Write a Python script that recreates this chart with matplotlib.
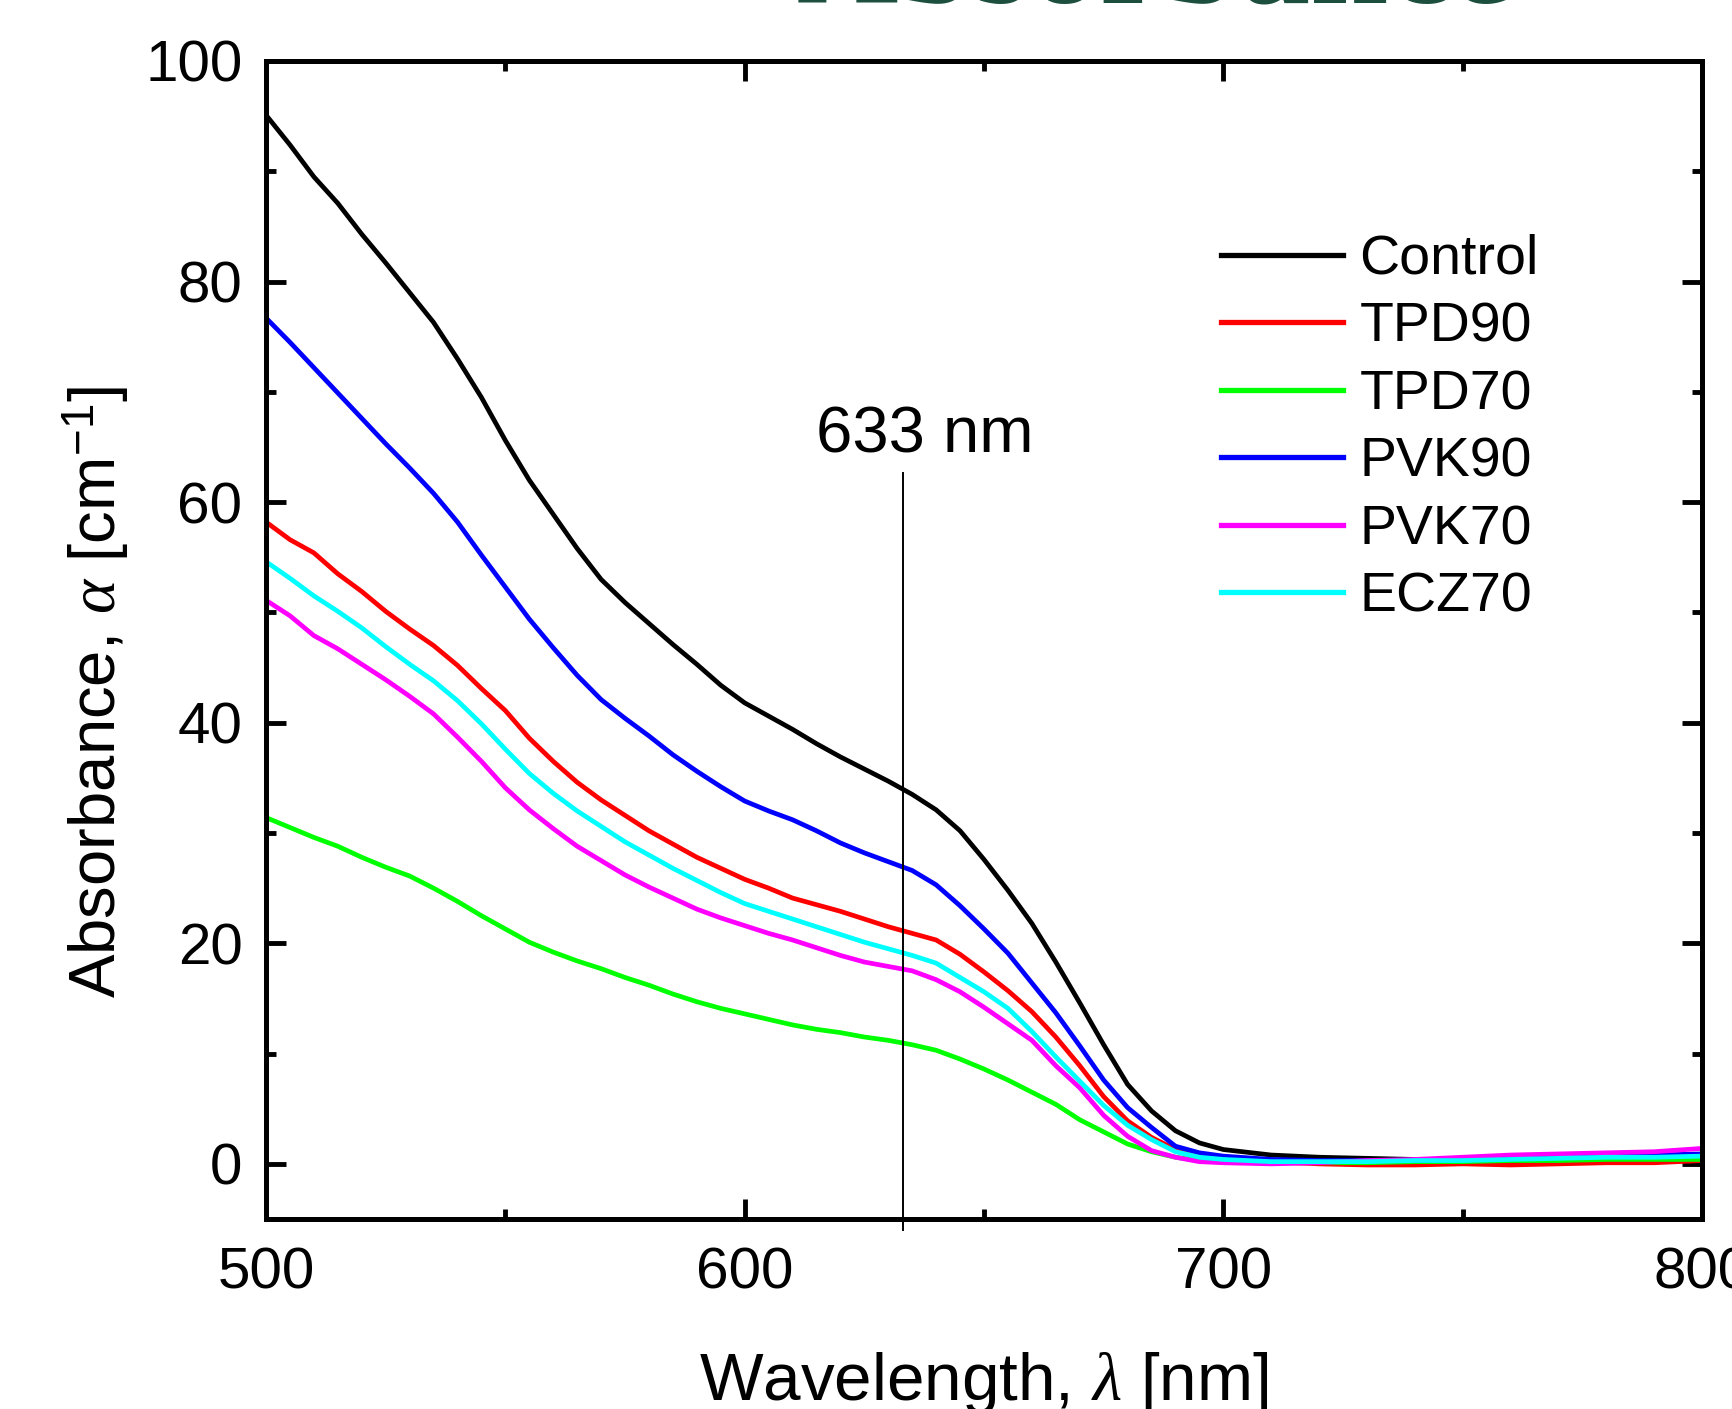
"""
Espectros de absorción de los composites fotorrefractivos
==========================================================
Coeficiente de absorción frente a longitud de onda, con la línea
del láser de He-Ne (633 nm) marcada.
"""

import matplotlib
matplotlib.use('Agg')
import matplotlib.pyplot as plt
from matplotlib.ticker import MultipleLocator

# Configuración global
plt.rcParams.update({
    'font.family': 'Liberation Sans',
    'mathtext.fontset': 'custom',
    'mathtext.rm': 'Liberation Sans',
    'mathtext.it': 'Liberation Serif:italic',
    'axes.linewidth': 3.6,
})

# Datos (nm, cm^-1)
longitud_onda = [500, 505, 510, 515, 520, 525, 530, 535, 540, 545,
                 550, 555, 560, 565, 570, 575, 580, 585, 590, 595,
                 600, 605, 610, 615, 620, 625, 630, 635, 640, 645,
                 650, 655, 660, 665, 670, 675, 680, 685, 690, 695,
                 700, 710, 720, 730, 740, 750, 760, 770, 780, 790,
                 800]

control = [95.1, 92.4, 89.5, 87.1, 84.3, 81.7, 79.0, 76.3, 73.0, 69.5,
           65.6, 62.0, 58.9, 55.8, 53.0, 50.9, 49.0, 47.1, 45.3, 43.4,
           41.8, 40.6, 39.4, 38.1, 36.9, 35.8, 34.7, 33.5, 32.1, 30.2,
           27.6, 24.8, 21.8, 18.3, 14.6, 10.8, 7.2, 4.8, 3.0, 1.9,
           1.3, 0.8, 0.6, 0.5, 0.4, 0.3, 0.3, 0.3, 0.4, 0.4,
           0.5]

tpd90 = [58.2, 56.6, 55.4, 53.5, 51.9, 50.1, 48.5, 47.0, 45.2, 43.1,
         41.1, 38.6, 36.5, 34.6, 33.0, 31.6, 30.2, 29.0, 27.8, 26.8,
         25.8, 25.0, 24.1, 23.5, 22.9, 22.2, 21.5, 20.9, 20.3, 19.0,
         17.4, 15.7, 13.8, 11.5, 8.9, 6.1, 3.9, 2.4, 1.3, 0.8,
         0.5, 0.2, 0.0, -0.1, -0.1, 0.0, -0.1, 0.0, 0.1, 0.1,
         0.3]

tpd70 = [31.4, 30.5, 29.6, 28.8, 27.8, 26.9, 26.1, 25.0, 23.8, 22.5,
         21.3, 20.1, 19.2, 18.4, 17.7, 16.9, 16.2, 15.4, 14.7, 14.1,
         13.6, 13.1, 12.6, 12.2, 11.9, 11.5, 11.2, 10.8, 10.3, 9.5,
         8.6, 7.6, 6.5, 5.4, 4.0, 2.9, 1.8, 1.1, 0.6, 0.3,
         0.2, 0.1, 0.1, 0.1, 0.2, 0.2, 0.3, 0.3, 0.4, 0.4,
         0.4]

pvk90 = [76.7, 74.5, 72.2, 69.9, 67.6, 65.3, 63.1, 60.8, 58.2, 55.2,
         52.3, 49.4, 46.8, 44.3, 42.1, 40.4, 38.8, 37.1, 35.6, 34.2,
         32.9, 32.0, 31.2, 30.2, 29.1, 28.2, 27.4, 26.6, 25.3, 23.4,
         21.3, 19.1, 16.4, 13.7, 10.7, 7.6, 5.1, 3.3, 1.6, 1.0,
         0.7, 0.4, 0.3, 0.3, 0.3, 0.4, 0.5, 0.6, 0.7, 0.8,
         0.9]

pvk70 = [51.1, 49.7, 47.9, 46.7, 45.3, 43.9, 42.4, 40.8, 38.7, 36.5,
         34.1, 32.1, 30.4, 28.8, 27.5, 26.2, 25.1, 24.1, 23.1, 22.3,
         21.6, 20.9, 20.3, 19.6, 18.9, 18.3, 17.9, 17.5, 16.7, 15.6,
         14.2, 12.7, 11.2, 8.9, 6.9, 4.4, 2.5, 1.2, 0.6, 0.2,
         0.1, 0.0, 0.1, 0.3, 0.4, 0.6, 0.8, 0.9, 1.0, 1.1,
         1.4]

ecz70 = [54.6, 53.1, 51.5, 50.1, 48.6, 46.9, 45.3, 43.8, 42.0, 39.9,
         37.6, 35.4, 33.6, 32.0, 30.6, 29.2, 28.0, 26.8, 25.7, 24.6,
         23.6, 22.9, 22.2, 21.5, 20.8, 20.1, 19.5, 18.9, 18.2, 16.9,
         15.6, 14.1, 12.0, 9.7, 7.5, 5.3, 3.5, 2.2, 1.1, 0.6,
         0.4, 0.2, 0.2, 0.2, 0.3, 0.3, 0.4, 0.5, 0.6, 0.6,
         0.7]

etiquetas = ['Control', 'TPD90', 'TPD70', 'PVK90', 'PVK70', 'ECZ70']
colores = ['#000000', '#ff0000', '#00ff00', '#0000ff', '#ff00ff', '#00ffff']

laser_nm = 633
laser_tope = 62.6


def grafico_absorcion():
    fig = plt.figure(figsize=(17.33, 14.09), dpi=100)
    ax = fig.add_axes([266 / 1733, 190 / 1409, 1436 / 1733, 1158 / 1409])

    curvas = [control, tpd90, tpd70, pvk90, pvk70, ecz70]
    for y, etiqueta, color in zip(curvas, etiquetas, colores):
        ax.plot(longitud_onda, y, color=color, lw=3.4, label=etiqueta)

    # Línea del láser He-Ne
    ax.plot([laser_nm, laser_nm], [-6, laser_tope], color='black', lw=1.4,
            clip_on=False)
    ax.text(637.6, 64.5, f'{laser_nm} nm', fontsize=47, ha='center',
            va='baseline')

    ax.set_xlim(500, 800)
    ax.set_ylim(-5, 100)
    ax.xaxis.set_major_locator(MultipleLocator(100))
    ax.xaxis.set_minor_locator(MultipleLocator(50))
    ax.yaxis.set_major_locator(MultipleLocator(20))
    ax.yaxis.set_minor_locator(MultipleLocator(10))
    ax.tick_params(which='both', direction='in', top=True, right=True,
                   width=3.5, labelsize=42)
    ax.tick_params(which='major', length=14.5)
    ax.tick_params(which='minor', length=7)
    ax.tick_params(axis='x', pad=20)
    ax.tick_params(axis='y', pad=17)

    ax.set_xlabel(r'Wavelength, $\lambda$ [nm]', fontsize=48.5)
    ax.xaxis.set_label_coords(0.5, -0.113)
    ax.set_ylabel(r'Absorbance, $\alpha$ [cm$^{-1}$]', fontsize=47)
    ax.yaxis.set_label_coords(-0.094, 0.455)

    leyenda = ax.legend(loc='upper left',
                        bbox_to_anchor=(1221 / 1733, 1 - 234 / 1409),
                        bbox_transform=fig.transFigure, frameon=False,
                        fontsize=40, handlelength=2.2, handletextpad=0.29,
                        labelspacing=0.28, borderpad=0, borderaxespad=0)
    for linea in leyenda.get_lines():
        linea.set_linewidth(3.8)

    # Título de la diapositiva (queda recortado por arriba)
    fig.text(1155 / 1733, 1 - 2 / 1409, 'Absorbance', fontsize=101,
             fontweight='bold', family='Liberation Serif', color='#1d4f3f',
             ha='center', va='baseline')

    fig.savefig('out.png', dpi=100, facecolor='white')
    plt.close(fig)


if __name__ == "__main__":
    grafico_absorcion()
